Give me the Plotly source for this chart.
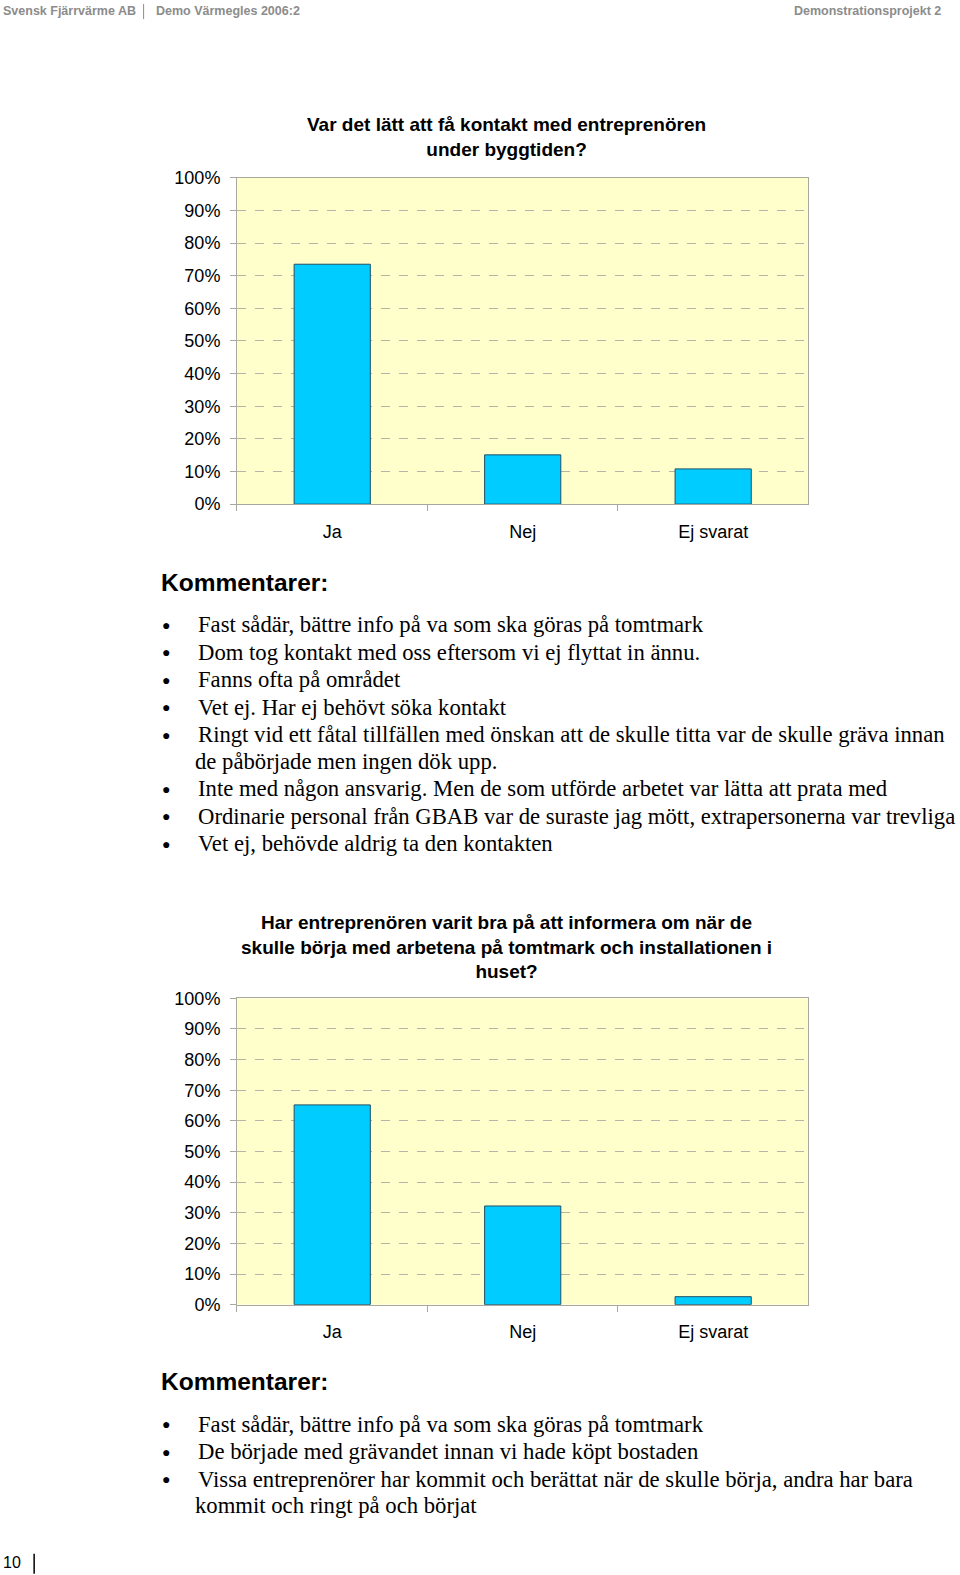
import plotly.graph_objects as go

W, H = 960, 1575
# measured page photograph mapping: shown_y = 9 + 0.983 * figure_y ; shown_x = 0.9958 * figure_x
Y_OFF, Y_SCALE, X_SCALE = 9.0, 0.983, 0.9958

categories = ["Ja", "Nej", "Ej svarat"]
values_q1 = [0.735, 0.151, 0.108]
values_q2 = [0.652, 0.322, 0.026]
ytick_vals = [0, 0.1, 0.2, 0.3, 0.4, 0.5, 0.6, 0.7, 0.8, 0.9, 1.0]

title_q1 = "Var det lätt att få kontakt med entreprenören<br>under byggtiden?"
title_q2 = ("Har entreprenören varit bra på att informera om när de<br>"
            "skulle börja med arbetena på tomtmark och installationen i<br>huset?")

comments_q1 = [
    ["Fast sådär, bättre info på va som ska göras på tomtmark"],
    ["Dom tog kontakt med oss eftersom vi ej flyttat in ännu."],
    ["Fanns ofta på området"],
    ["Vet ej. Har ej behövt söka kontakt"],
    ["Ringt vid ett fåtal tillfällen med önskan att de skulle titta var de skulle gräva innan",
     "de påbörjade men ingen dök upp."],
    ["Inte med någon ansvarig. Men de som utförde arbetet var lätta att prata med"],
    ["Ordinarie personal från GBAB var de suraste jag mött, extrapersonerna var trevliga"],
    ["Vet ej, behövde aldrig ta den kontakten"],
]
comments_q2 = [
    ["Fast sådär, bättre info på va som ska göras på tomtmark"],
    ["De började med grävandet innan vi hade köpt bostaden"],
    ["Vissa entreprenörer har kommit och berättat när de skulle börja, andra har bara",
     "kommit och ringt på och börjat"],
]


def py(t):
    return 1 - ((t - Y_OFF) / Y_SCALE) / H


def px_x(t):
    return (t / X_SCALE) / W


ARIAL = "Liberation Sans, Arial, sans-serif"
TIMES = "Liberation Serif, Times New Roman, serif"

fig = go.Figure()
fig.add_trace(go.Bar(x=categories, y=values_q1, xaxis="x", yaxis="y",
                     marker=dict(color="#00CCFF", line=dict(color="#1F4F66", width=1)),
                     width=0.4, hoverinfo="skip"))
fig.add_trace(go.Bar(x=categories, y=values_q2, xaxis="x2", yaxis="y2",
                     marker=dict(color="#00CCFF", line=dict(color="#1F4F66", width=1)),
                     width=0.4, hoverinfo="skip"))

xdom = [px_x(236), px_x(805)]


def xaxis(anchor):
    return dict(domain=xdom, anchor=anchor, type="category", range=[-0.5, 2.5],
                showline=True, linecolor="#A8A8A0", linewidth=1, mirror=True,
                ticks="outside", tickson="boundaries", ticklen=6, tickcolor="#A8A8A0",
                showgrid=False, tickfont=dict(family=ARIAL, size=18, color="#000"),
                ticklabelstandoff=11, fixedrange=True)


def yaxis(anchor, dom):
    return dict(domain=dom, anchor=anchor, range=[0, 1], tickvals=ytick_vals,
                tickformat=".0%", showline=True, linecolor="#A8A8A0", linewidth=1,
                mirror=True, ticks="outside", ticklen=6, tickcolor="#A8A8A0",
                showgrid=True, gridcolor="#B4B4A8", griddash="dash", gridwidth=1,
                zeroline=False, tickfont=dict(family=ARIAL, size=18, color="#000"),
                ticklabelstandoff=6, fixedrange=True)


annotations = []


def text(x, y, s, size, family=ARIAL, color="#000", xanchor="left", bold=False, align="left"):
    if bold:
        s = "<b>" + s + "</b>"
    annotations.append(dict(x=px_x(x), y=py(y), xref="paper", yref="paper", text=s,
                            showarrow=False, xanchor=xanchor, yanchor="middle",
                            align=align, font=dict(family=family, size=size, color=color)))


# header
text(1, 10, "Svensk Fjärrvärme AB", 12.5, color="#8C8C8C", bold=True)
text(153, 10, "Demo Värmegles 2006:2", 12.5, color="#8C8C8C", bold=True)
text(939, 10, "Demonstrationsprojekt 2", 12.5, color="#8C8C8C", bold=True, xanchor="right")
text(1, 1555, "10", 16, color="#000")

# titles
annotations.append(dict(x=px_x(504), y=py(135), xref="paper", yref="paper", text="<b>" + title_q1 + "</b>",
                        showarrow=False, xanchor="center", yanchor="middle", align="center",
                        font=dict(family=ARIAL, size=19, color="#000")))
annotations.append(dict(x=px_x(504), y=py(942), xref="paper", yref="paper", text="<b>" + title_q2 + "</b>",
                        showarrow=False, xanchor="center", yanchor="middle", align="center",
                        font=dict(family=ARIAL, size=19, color="#000")))

# comments
text(158, 579, "Kommentarer:", 24.5, bold=True)
text(158, 1375, "Kommentarer:", 24.5, bold=True)


def bullets(items, y0, step=27.4):
    y = y0
    for lines in items:
        text(159, y, "●", 14, family=ARIAL)
        text(195, y, lines[0], 22.7, family=TIMES)
        y += step
        for extra in lines[1:]:
            text(192, y - 1, extra, 22.7, family=TIMES)
            y += step - 1
    return y


bullets(comments_q1, 621)
bullets(comments_q2, 1417)

shapes = [
    dict(type="line", xref="paper", yref="paper", x0=px_x(143), x1=px_x(143),
         y0=py(3), y1=py(18), line=dict(color="#8C8C8C", width=1)),
    dict(type="line", xref="paper", yref="paper", x0=px_x(34), x1=px_x(34),
         y0=py(1546), y1=py(1566), line=dict(color="#000", width=1.5)),
]

fig.update_layout(
    width=W, height=H, margin=dict(l=0, r=0, t=0, b=0),
    paper_bgcolor="#FFFFFF", plot_bgcolor="#FFFFCC", showlegend=False,
    xaxis=xaxis("y"), yaxis=yaxis("x", [py(501), py(176)]),
    xaxis2=xaxis("y2"), yaxis2=yaxis("x2", [py(1298), py(993)]),
    annotations=annotations, shapes=shapes, bargap=0.6,
)

fig.write_html("out.html", config={"displayModeBar": False})
